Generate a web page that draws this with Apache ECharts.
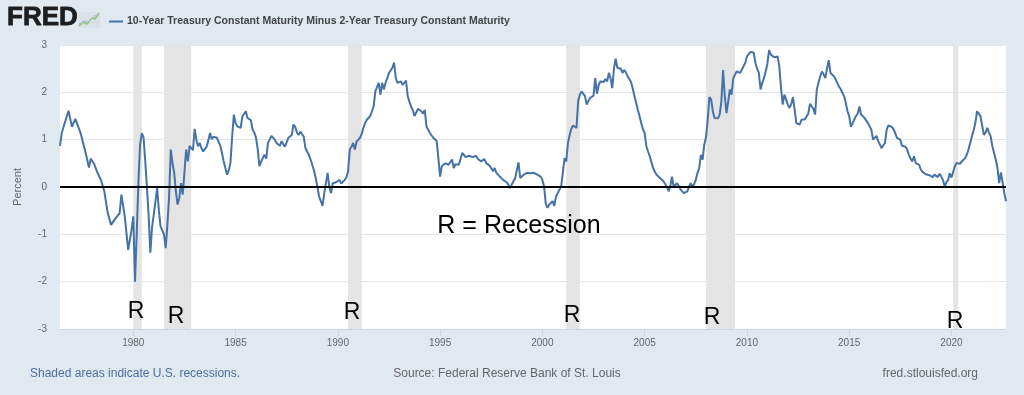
<!DOCTYPE html>
<html>
<head>
<meta charset="utf-8">
<script src="https://cdn.jsdelivr.net/npm/echarts@6/dist/echarts.min.js"></script>
<style>
html,body{margin:0;padding:0;background:#e1e9f0;}
#chart{width:1024px;height:395px;}
</style>
</head>
<body>
<div id="chart"></div>
<script>
const seriesName = '10-Year Treasury Constant Maturity Minus 2-Year Treasury Constant Maturity';

// [month, percent]
const spread = [
["1976-06",0.87],["1976-07",1.14],["1976-11",1.61],
["1977-01",1.27],["1977-03",1.44],["1977-06",1.15],["1977-09",0.73],["1977-11",0.41],["1977-12",0.6],
["1978-02",0.49],["1978-04",0.3],["1978-06",0.15],["1978-08",-0.09],["1978-10",-0.55],["1978-12",-0.8],
["1979-02",-0.69],["1979-05",-0.55],["1979-06",-0.16],["1979-08",-0.62],["1979-10",-1.33],["1979-12",-0.9],
["1980-01",-0.62],["1980-02",-2.0],["1980-03",-1.0],["1980-04",0.1],["1980-05",0.9],["1980-06",1.14],["1980-07",1.05],["1980-08",0.55],["1980-09",0.0],["1980-10",-0.6],["1980-11",-1.39],["1980-12",-0.85],
["1981-01",-0.59],["1981-02",-0.55],["1981-03",-0.02],["1981-04",-0.5],["1981-05",-0.83],["1981-06",-0.8],["1981-07",-1.0],["1981-08",-1.29],["1981-09",-0.8],["1981-10",-0.2],["1981-11",0.79],["1981-12",0.5],
["1982-01",0.3],["1982-02",-0.1],["1982-03",-0.37],["1982-04",-0.23],["1982-05",0.08],["1982-06",-0.16],["1982-07",0.3],["1982-08",0.79],["1982-09",0.54],["1982-10",0.87],["1982-11",0.9],["1982-12",0.78],
["1983-01",1.23],["1983-02",1.0],["1983-03",0.86],["1983-04",0.93],["1983-05",0.82],["1983-06",0.75],["1983-07",0.8],["1983-08",0.85],["1983-09",0.98],["1983-10",1.14],["1983-11",1.01],["1983-12",1.06],
["1984-01",1.1],["1984-02",1.04],["1984-03",1.0],["1984-04",0.88],["1984-05",0.72],["1984-06",0.55],["1984-07",0.4],["1984-08",0.26],["1984-09",0.35],["1984-10",0.51],["1984-11",1.07],["1984-12",1.53],
["1985-01",1.35],["1985-02",1.28],["1985-03",1.3],["1985-04",1.25],["1985-05",1.49],["1985-06",1.5],["1985-07",1.6],["1985-08",1.46],["1985-09",1.5],["1985-10",1.41],["1985-11",1.21],["1985-12",1.15],
["1986-01",1.04],["1986-02",0.8],["1986-03",0.44],["1986-04",0.54],["1986-06",0.68],["1986-07",0.6],["1986-08",0.93],["1986-09",1.0],["1986-10",1.08],["1986-11",1.1],["1986-12",1.0],
["1987-01",0.93],["1987-02",0.9],["1987-03",0.87],["1987-04",0.97],["1987-05",0.9],["1987-06",0.85],["1987-07",0.95],["1987-08",1.04],["1987-09",1.06],["1987-10",1.1],["1987-11",1.32],["1987-12",1.27],
["1988-01",1.15],["1988-02",1.1],["1988-03",1.17],["1988-04",1.12],["1988-05",1.06],["1988-06",0.82],["1988-07",0.75],["1988-08",0.68],["1988-09",0.58],["1988-10",0.47],["1988-11",0.35],["1988-12",0.19],
["1989-01",0.01],["1989-02",-0.2],["1989-03",-0.3],["1989-04",-0.4],["1989-05",-0.14],["1989-06",-0.12],["1989-07",0.3],["1989-08",0.0],["1989-09",-0.13],["1989-10",0.08],["1989-11",0.12],["1989-12",0.1],
["1990-01",0.12],["1990-02",0.15],["1990-03",0.07],["1990-04",0.1],["1990-05",0.15],["1990-06",0.2],["1990-07",0.33],["1990-08",0.79],["1990-09",0.85],["1990-10",0.93],["1990-11",0.79],["1990-12",0.96],
["1991-01",1.0],["1991-02",1.04],["1991-03",1.12],["1991-04",1.25],["1991-05",1.35],["1991-06",1.42],["1991-07",1.45],["1991-08",1.5],["1991-09",1.53],["1991-10",1.7],["1991-11",2.02],["1991-12",2.05],
["1992-01",2.2],["1992-02",1.95],["1992-03",2.2],["1992-04",2.06],["1992-05",2.2],["1992-06",2.3],["1992-07",2.41],["1992-08",2.45],["1992-09",2.52],["1992-10",2.63],["1992-11",2.3],["1992-12",2.2],
["1993-01",2.18],["1993-02",2.23],["1993-03",2.16],["1993-04",2.16],["1993-05",2.25],["1993-06",1.92],["1993-07",1.8],["1993-08",1.7],["1993-09",1.62],["1993-10",1.5],["1993-11",1.46],["1993-12",1.65],
["1994-01",1.62],["1994-02",1.6],["1994-03",1.55],["1994-04",1.63],["1994-05",1.28],["1994-06",1.25],["1994-07",1.14],["1994-08",1.1],["1994-09",1.04],["1994-10",1.0],["1994-11",0.97],["1994-12",0.6],
["1995-01",0.22],["1995-02",0.44],["1995-03",0.4],["1995-04",0.5],["1995-05",0.52],["1995-06",0.47],["1995-07",0.48],["1995-08",0.58],["1995-09",0.4],["1995-10",0.48],["1995-11",0.51],["1995-12",0.47],
["1996-01",0.5],["1996-02",0.72],["1996-03",0.68],["1996-04",0.63],["1996-05",0.64],["1996-06",0.66],["1996-07",0.65],["1996-08",0.63],["1996-09",0.64],["1996-10",0.66],["1996-11",0.6],["1996-12",0.58],
["1997-01",0.54],["1997-02",0.56],["1997-03",0.59],["1997-04",0.51],["1997-05",0.48],["1997-06",0.45],["1997-07",0.4],["1997-08",0.33],["1997-09",0.4],["1997-10",0.3],["1997-11",0.26],["1997-12",0.22],
["1998-01",0.2],["1998-02",0.15],["1998-03",0.12],["1998-04",0.1],["1998-05",0.05],["1998-06",-0.02],["1998-07",0.05],["1998-08",0.12],["1998-09",0.18],["1998-10",0.22],["1998-11",0.52],["1998-12",0.19],
["1999-01",0.22],["1999-02",0.26],["1999-03",0.28],["1999-04",0.3],["1999-05",0.27],["1999-06",0.29],["1999-07",0.28],["1999-08",0.3],["1999-09",0.29],["1999-10",0.26],["1999-11",0.24],["1999-12",0.22],
["2000-01",0.15],["2000-02",0.01],["2000-03",-0.35],["2000-04",-0.44],["2000-05",-0.37],["2000-06",-0.35],["2000-07",-0.3],["2000-08",-0.4],["2000-09",-0.2],["2000-10",-0.13],["2000-11",-0.09],["2000-12",0.01],
["2001-01",0.3],["2001-02",0.61],["2001-03",0.54],["2001-04",0.93],["2001-05",1.1],["2001-06",1.23],["2001-07",1.3],["2001-08",1.28],["2001-09",1.25],["2001-10",1.81],["2001-11",1.95],["2001-12",2.02],
["2002-01",1.98],["2002-02",1.92],["2002-03",1.74],["2002-04",1.82],["2002-05",1.88],["2002-06",1.9],["2002-07",1.93],["2002-08",2.3],["2002-09",1.97],["2002-10",2.15],["2002-11",2.23],["2002-12",2.2],
["2003-01",2.22],["2003-02",2.28],["2003-03",2.23],["2003-04",2.41],["2003-05",2.3],["2003-06",2.09],["2003-07",2.5],["2003-08",2.71],["2003-09",2.52],["2003-10",2.55],["2003-11",2.5],["2003-12",2.41],
["2004-01",2.47],["2004-02",2.42],["2004-03",2.34],["2004-04",2.28],["2004-05",2.22],["2004-06",2.08],["2004-07",1.92],["2004-08",1.78],["2004-09",1.63],["2004-10",1.5],["2004-11",1.35],["2004-12",1.22],
["2005-01",1.14],["2005-02",0.86],["2005-03",0.75],["2005-04",0.65],["2005-05",0.52],["2005-06",0.4],["2005-07",0.32],["2005-08",0.26],["2005-09",0.22],["2005-10",0.19],["2005-11",0.15],["2005-12",0.12],
["2006-01",0.08],["2006-02",0.01],["2006-03",-0.09],["2006-04",0.0],["2006-05",0.22],["2006-06",0.01],["2006-07",0.05],["2006-08",0.08],["2006-09",0.02],["2006-10",-0.05],["2006-11",-0.08],["2006-12",-0.13],
["2007-01",-0.12],["2007-02",-0.09],["2007-03",0.0],["2007-04",0.08],["2007-05",0.01],["2007-06",0.06],["2007-07",0.15],["2007-08",0.3],["2007-09",0.4],["2007-10",0.68],["2007-11",0.58],["2007-12",0.9],
["2008-01",1.05],["2008-02",1.42],["2008-03",1.9],["2008-04",1.85],["2008-05",1.6],["2008-06",1.46],["2008-07",1.42],["2008-08",1.45],["2008-09",1.53],["2008-10",1.8],["2008-11",2.47],["2008-12",1.93],
["2009-01",1.56],["2009-02",1.8],["2009-03",2.06],["2009-04",1.95],["2009-05",2.3],["2009-06",2.37],["2009-07",2.44],["2009-08",2.42],["2009-09",2.41],["2009-10",2.48],["2009-11",2.52],["2009-12",2.62],
["2010-01",2.76],["2010-02",2.8],["2010-03",2.85],["2010-04",2.82],["2010-05",2.84],["2010-06",2.62],["2010-07",2.5],["2010-08",2.41],["2010-09",2.06],["2010-10",2.2],["2010-11",2.3],["2010-12",2.44],
["2011-01",2.6],["2011-02",2.89],["2011-03",2.8],["2011-04",2.76],["2011-05",2.74],["2011-06",2.72],["2011-07",2.76],["2011-08",2.55],["2011-09",2.1],["2011-10",1.74],["2011-11",1.95],["2011-12",1.85],
["2012-01",1.74],["2012-02",1.67],["2012-03",1.75],["2012-04",1.9],["2012-05",1.63],["2012-06",1.35],["2012-07",1.33],["2012-08",1.32],["2012-09",1.42],["2012-10",1.4],["2012-11",1.43],["2012-12",1.49],
["2013-01",1.55],["2013-02",1.76],["2013-03",1.7],["2013-04",1.65],["2013-05",1.53],["2013-06",2.06],["2013-07",2.2],["2013-08",2.34],["2013-09",2.44],["2013-10",2.38],["2013-11",2.3],["2013-12",2.5],
["2014-01",2.68],["2014-02",2.41],["2014-03",2.38],["2014-04",2.34],["2014-05",2.28],["2014-06",2.2],["2014-07",2.12],["2014-08",2.07],["2014-09",1.99],["2014-10",1.92],["2014-11",1.78],["2014-12",1.6],
["2015-01",1.5],["2015-02",1.27],["2015-03",1.35],["2015-04",1.39],["2015-05",1.5],["2015-06",1.55],["2015-07",1.7],["2015-08",1.53],["2015-09",1.5],["2015-10",1.46],["2015-11",1.42],["2015-12",1.35],
["2016-01",1.28],["2016-02",1.21],["2016-03",1.0],["2016-04",1.04],["2016-05",1.08],["2016-06",0.97],["2016-07",0.9],["2016-08",0.82],["2016-09",0.88],["2016-10",0.93],["2016-11",1.21],["2016-12",1.3],
["2017-01",1.3],["2017-02",1.27],["2017-03",1.22],["2017-04",1.14],["2017-05",1.04],["2017-06",1.02],["2017-07",1.0],["2017-08",0.87],["2017-09",0.9],["2017-10",0.85],["2017-11",0.79],["2017-12",0.68],
["2018-01",0.6],["2018-02",0.54],["2018-03",0.65],["2018-04",0.51],["2018-05",0.49],["2018-06",0.47],["2018-07",0.37],["2018-08",0.32],["2018-09",0.3],["2018-10",0.27],["2018-11",0.26],["2018-12",0.25],
["2019-01",0.24],["2019-02",0.21],["2019-03",0.26],["2019-04",0.22],["2019-05",0.21],["2019-06",0.28],["2019-07",0.22],["2019-08",0.15],["2019-09",0.01],["2019-10",0.1],["2019-11",0.15],["2019-12",0.29],
["2020-01",0.2],["2020-02",0.22],["2020-03",0.44],["2020-04",0.51],["2020-05",0.5],["2020-06",0.49],["2020-07",0.54],["2020-08",0.57],["2020-09",0.61],["2020-10",0.68],["2020-11",0.79],["2020-12",0.79],
["2021-01",1.07],["2021-02",1.2],["2021-03",1.35],["2021-04",1.6],["2021-05",1.55],["2021-06",1.5],["2021-07",1.3],["2021-08",1.1],["2021-09",1.15],["2021-10",1.25],["2021-11",1.15],["2021-12",1.07],
["2022-01",0.86],["2022-02",0.72],["2022-03",0.58],["2022-04",0.4],["2022-05",0.08],["2022-06",0.31],["2022-07",0.1],["2022-08",-0.13],["2022-09",-0.3]
];

// recession shading [start, end]
const recessions = [
["1980-01","1980-06"],["1981-07","1982-11"],["1990-07","1991-03"],
["2001-03","2001-11"],["2008-01","2009-06"],["2020-02","2020-05"]
];

const xTickYears = [1980,1985,1990,1995,2000,2005,2010,2015,2020];
const yMin = -3, yMax = 3, yStep = 1;

function toYear(s){ const p = s.split('-').map(Number); return p[0] + (p[1]-1)/12; }

const lineData = spread.map(d => [toYear(d[0]), d[1]]);
const areaData = recessions.map(r => [{xAxis: toYear(r[0])}, {xAxis: toYear(r[1])}]);

const chart = echarts.init(document.getElementById('chart'), null, {renderer:'canvas'});
const txt = (text, x, y, opts) => Object.assign({type:'text', x:x, y:y, z:100, silent:true,
  style: Object.assign({text:text, fontFamily:'"Liberation Sans", Arial, sans-serif'}, opts)});

chart.setOption({
  backgroundColor: '#e1e9f0',
  animation: false,
  textStyle: {fontFamily: '"Liberation Sans", Arial, sans-serif'},
  grid: {left: 60, right: 18, top: 45, bottom: 66, show: true, backgroundColor: '#ffffff', borderWidth: 0, containLabel: false},
  legend: {
    left: 104, top: 11, icon: 'rect', itemWidth: 14, itemHeight: 2, itemGap: 4, selectedMode: false,
    textStyle: {fontSize: 10.5, fontWeight: 'bold', color: '#444', padding: [0,0,0,-1]},
    data: [seriesName]
  },
  xAxis: {
    type: 'value',
    min: toYear(spread[0][0]),
    max: toYear(spread[spread.length-1][0]),
    splitLine: {show: false},
    axisLine: {show: true, onZero: false, lineStyle: {color: '#ccd6eb'}},
    axisTick: {show: true, length: 7, lineStyle: {color: '#ccd6eb'}, customValues: xTickYears},
    axisLabel: {color: '#666', fontSize: 10, margin: 9, customValues: xTickYears, formatter: v => String(v)}
  },
  yAxis: {
    type: 'value', min: yMin, max: yMax, interval: yStep,
    name: 'Percent', nameLocation: 'middle', nameRotate: 90, nameGap: 37,
    nameTextStyle: {color: '#666', fontSize: 11},
    axisLine: {show: false}, axisTick: {show: false},
    axisLabel: {color: '#666', fontSize: 10, margin: 13},
    splitLine: {lineStyle: {color: '#e6e6e6', width: 1}}
  },
  series: [{
    name: seriesName,
    type: 'line',
    data: lineData,
    showSymbol: false,
    symbol: 'none',
    color: '#4572a7',
    lineStyle: {color: '#4572a7', width: 2},
    z: 3,
    markArea: {silent: true, itemStyle: {color: '#e4e4e4'}, data: areaData},
    markLine: {silent: true, symbol: ['none','none'], label: {show: false},
      lineStyle: {color: '#000', width: 2, type: 'solid'}, data: [{yAxis: 0}]}
  }],
  graphic: [
    txt('FRED', 7, 18, {fontSize: 26, fontWeight: 'bold', fill: '#1e1e1e', verticalAlign: 'middle', stroke: '#1e1e1e', lineWidth: 0.8}),
    {type: 'rect', z: 100, silent: true, shape: {x: 78, y: 12, width: 22, height: 16}, style: {fill: '#d9e1e8'}},
    {type: 'polyline', z: 100, silent: true, shape: {points: [[79,26],[83,22],[87,24],[92,18],[95,19],[99,13]]}, style: {stroke: '#93c27c', lineWidth: 1.5, fill: null}},
    {type: 'polyline', z: 100, silent: true, shape: {points: [[79,24],[84,21],[89,22],[94,16],[99,15]]}, style: {stroke: '#a9bfd3', lineWidth: 1, fill: null}},
    txt('R', 136, 312, {fontSize: 23, fill: '#000', align: 'center', verticalAlign: 'middle'}),
    txt('R', 176, 317, {fontSize: 23, fill: '#000', align: 'center', verticalAlign: 'middle'}),
    txt('R', 352, 313, {fontSize: 23, fill: '#000', align: 'center', verticalAlign: 'middle'}),
    txt('R', 572, 316, {fontSize: 23, fill: '#000', align: 'center', verticalAlign: 'middle'}),
    txt('R', 712, 318, {fontSize: 23, fill: '#000', align: 'center', verticalAlign: 'middle'}),
    txt('R', 955, 322, {fontSize: 23, fill: '#000', align: 'center', verticalAlign: 'middle'}),
    txt('R = Recession', 519, 226, {fontSize: 25, fill: '#000', align: 'center', verticalAlign: 'middle'}),
    txt('Shaded areas indicate U.S. recessions.', 30, 374, {fontSize: 12, fill: '#4d6da0', verticalAlign: 'middle'}),
    txt('Source: Federal Reserve Bank of St. Louis', 507, 374, {fontSize: 12, fill: '#666', align: 'center', verticalAlign: 'middle'}),
    txt('fred.stlouisfed.org', 978, 374, {fontSize: 12, fill: '#666', align: 'right', verticalAlign: 'middle'})
  ]
});
</script>
</body>
</html>
